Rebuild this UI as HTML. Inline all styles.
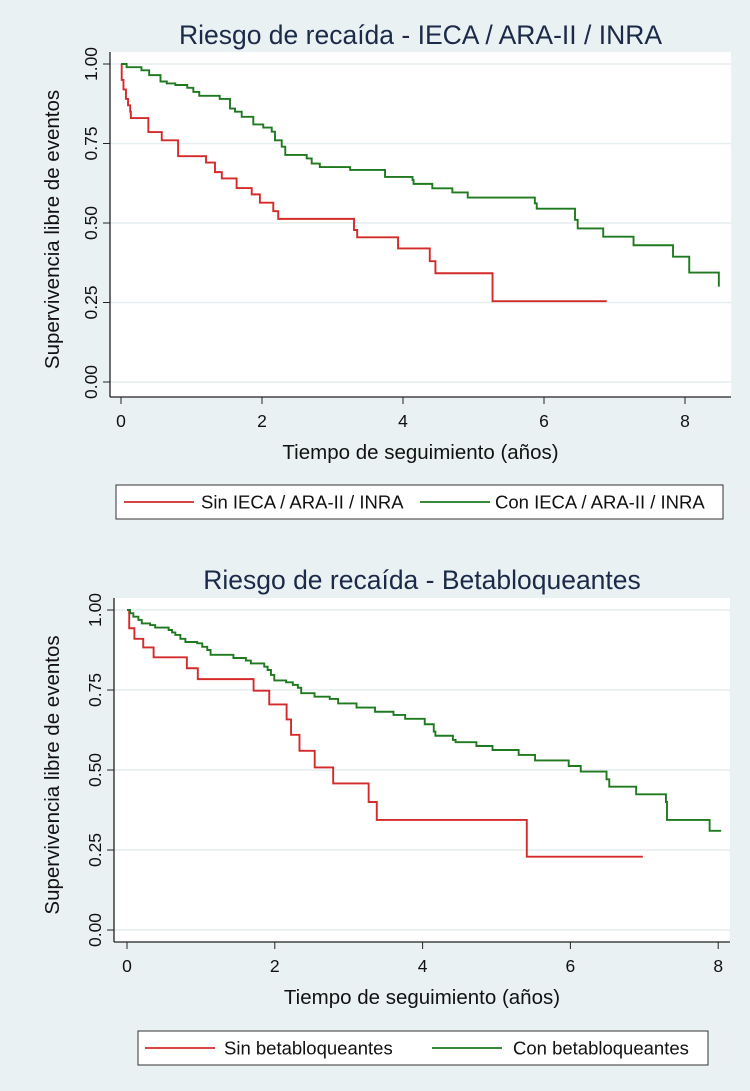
<!DOCTYPE html>
<html><head><meta charset="utf-8">
<style>
html,body{margin:0;padding:0;background:#eaf1f3;}
svg{display:block;font-family:"Liberation Sans",Arial,sans-serif;}
</style></head>
<body>
<svg id="fig" width="750" height="1091" viewBox="0 0 750 1091" xmlns="http://www.w3.org/2000/svg">
<rect width="750" height="1091" fill="#eaf1f3"/>
</svg>
<script>
// ---- Data: chart 1 (IECA / ARA-II / INRA) ----
const c1RedTimes = [0,0.01,0.035,0.07,0.1,0.13,0.14,0.388,0.578,0.81,1.206,1.333,1.43,1.64,1.854,1.97,2.16,2.23,3.305,3.35,3.93,4.38,4.46,5.27,6.89];
const c1RedSurv  = [1,0.95,0.92,0.89,0.87,0.85,0.83,0.786,0.76,0.71,0.69,0.66,0.64,0.61,0.59,0.564,0.537,0.513,0.478,0.455,0.42,0.38,0.342,0.254,0.254];
const c1GreenTimes = [0,0.08,0.29,0.4,0.56,0.65,0.77,0.94,1.026,1.11,1.40,1.546,1.617,1.712,1.877,2.018,2.138,2.184,2.28,2.33,2.634,2.705,2.82,3.25,3.745,4.135,4.15,4.416,4.7,4.918,5.87,5.897,6.44,6.478,6.84,7.27,7.83,8.06,8.48];
const c1GreenSurv  = [1,0.99,0.98,0.965,0.945,0.939,0.934,0.925,0.912,0.9,0.89,0.86,0.85,0.834,0.81,0.80,0.787,0.76,0.74,0.714,0.703,0.687,0.676,0.667,0.645,0.635,0.623,0.609,0.596,0.58,0.562,0.545,0.51,0.483,0.457,0.43,0.394,0.344,0.30];
// ---- Data: chart 2 (Betabloqueantes) ----
const c2RedTimes = [0,0.03,0.1,0.22,0.36,0.81,0.958,1.713,1.925,2.16,2.22,2.334,2.54,2.79,3.27,3.38,5.41,6.98];
const c2RedSurv  = [1,0.943,0.91,0.883,0.852,0.818,0.784,0.748,0.705,0.658,0.61,0.56,0.508,0.458,0.40,0.344,0.229,0.229];
const c2GreenTimes = [0,0.041,0.086,0.154,0.2,0.313,0.381,0.563,0.609,0.654,0.722,0.79,0.95,1.018,1.086,1.131,1.44,1.608,1.676,1.857,1.903,1.948,1.993,2.153,2.244,2.312,2.357,2.538,2.743,2.857,3.106,3.356,3.606,3.764,4.029,4.151,4.173,4.41,4.446,4.728,4.946,5.3,5.522,5.977,6.14,6.489,6.526,6.89,7.293,7.307,7.884,8.04];
const c2GreenSurv  = [1,0.99,0.979,0.969,0.958,0.953,0.945,0.9375,0.93,0.922,0.91,0.90,0.896,0.885,0.875,0.86,0.85,0.842,0.833,0.823,0.8125,0.797,0.78,0.774,0.766,0.757,0.74,0.729,0.722,0.708,0.695,0.682,0.672,0.66,0.643,0.62,0.607,0.594,0.587,0.575,0.5625,0.547,0.53,0.5125,0.495,0.471,0.448,0.424,0.40,0.344,0.31,0.31];
const xTicks = [0,2,4,6,8];
const yTicks = [0,0.25,0.5,0.75,1];
const yTickLabels = ["0.00","0.25","0.50","0.75","1.00"];

const NS="http://www.w3.org/2000/svg";
const svg=document.getElementById('fig');
function mk(tag,attrs,parent){const e=document.createElementNS(NS,tag);for(const k in attrs)e.setAttribute(k,attrs[k]);(parent||svg).appendChild(e);return e;}

function drawChart(cfg){
  const g=mk('g',{});
  
  
  const X=t=>cfg.x0+t*cfg.xs;
  const Y=v=>cfg.y0-v*cfg.ys;
  const title=mk('text',{x:(cfg.left+cfg.right)/2,y:cfg.titleY,'text-anchor':'middle','font-size':26.5,fill:'#1a2a48'},g);
  title.textContent=cfg.title;
  
  
  const plot=mk('rect',{x:cfg.left,y:cfg.top,width:cfg.right-cfg.left,height:cfg.bottom-cfg.top,fill:'#fff'},g);
  
  
  yTicks.forEach((v,i)=>{
    const gl=mk('line',{x1:cfg.left,x2:cfg.right,y1:Y(v),y2:Y(v),stroke:'#e6eef0','stroke-width':1.5},g);
    
    
    mk('line',{x1:cfg.left-7,x2:cfg.left,y1:Y(v),y2:Y(v),stroke:'#222','stroke-width':1},g);
    const tl=mk('text',{x:0,y:0,transform:`translate(${cfg.left-13},${Y(v)}) rotate(-90)`,'text-anchor':'middle','font-size':17.5,fill:'#111'},g);
    tl.textContent=yTickLabels[i];
    
    
  });
  xTicks.forEach(t=>{
    mk('line',{x1:X(t),x2:X(t),y1:cfg.bottom,y2:cfg.bottom+7,stroke:'#222','stroke-width':1},g);
    const tl=mk('text',{x:X(t),y:cfg.bottom+30,'text-anchor':'middle','font-size':17.5,fill:'#111'},g);
    tl.textContent=String(t);
    
    
  });
  mk('line',{x1:cfg.left,x2:cfg.left,y1:cfg.top,y2:cfg.bottom,stroke:'#222','stroke-width':1.3},g);
  mk('line',{x1:cfg.left,x2:cfg.right,y1:cfg.bottom,y2:cfg.bottom,stroke:'#222','stroke-width':1.3},g);
  const xt=mk('text',{x:(cfg.left+cfg.right)/2,y:cfg.bottom+62,'text-anchor':'middle','font-size':20.5,fill:'#111'},g);
  xt.textContent='Tiempo de seguimiento (años)';
  
  
  const yc=(cfg.top+cfg.bottom)/2+5;
  const yt=mk('text',{x:0,y:0,transform:`translate(59,${yc}) rotate(-90)`,'text-anchor':'middle','font-size':20.5,fill:'#111'},g);
  yt.textContent='Supervivencia libre de eventos';
  
  
  cfg.series.forEach(s=>{
    let d=`M${X(s.t[0])},${Y(s.v[0])}`;
    for(let i=1;i<s.t.length;i++){d+=` H${X(s.t[i])} V${Y(s.v[i])}`;}
    const p=mk('path',{d:d,fill:'none',stroke:s.color,'stroke-width':1.9},g);
    
    
  });
  const L=cfg.legend;
  const lg=mk('g',{},g);
  
  
  mk('rect',{x:L.x,y:L.y,width:L.w,height:L.h,fill:'#fff',stroke:'#333','stroke-width':1},lg);
  L.items.forEach(it=>{
    const ln=mk('line',{x1:it.lx,x2:it.lx+70,y1:L.y+L.h/2,y2:L.y+L.h/2,stroke:it.color,'stroke-width':1.8},lg);
    
    
    const tx=mk('text',{x:it.tx,y:L.y+L.h/2+6.5,'font-size':18.5,fill:'#111'},lg);
    tx.textContent=it.label;
    
    
  });
}
const RED='#d42a2a', GREEN='#1f7a1f';
drawChart({id:'chart-ieca',title:'Riesgo de recaída - IECA / ARA-II / INRA',titleY:44,
  left:110,right:731,top:52,bottom:397,x0:121,xs:70.5,y0:382,ys:318,
  series:[{name:'series-sin-ieca',t:c1RedTimes,v:c1RedSurv,color:RED},{name:'series-con-ieca',t:c1GreenTimes,v:c1GreenSurv,color:GREEN}],
  legend:{x:116,y:485,w:607,h:34,items:[{lx:124,tx:201,color:RED,label:'Sin IECA / ARA-II / INRA'},{lx:420,tx:495,color:GREEN,label:'Con IECA / ARA-II / INRA'}]}});
drawChart({id:'chart-beta',title:'Riesgo de recaída - Betabloqueantes',titleY:589,
  left:114,right:730,top:598,bottom:942,x0:127,xs:73.9,y0:930,ys:320,
  series:[{name:'series-sin-beta',t:c2RedTimes,v:c2RedSurv,color:RED},{name:'series-con-beta',t:c2GreenTimes,v:c2GreenSurv,color:GREEN}],
  legend:{x:138,y:1031,w:570,h:34,items:[{lx:145,tx:224,color:RED,label:'Sin betabloqueantes'},{lx:432,tx:513,color:GREEN,label:'Con betabloqueantes'}]}});
</script>
</body></html>
